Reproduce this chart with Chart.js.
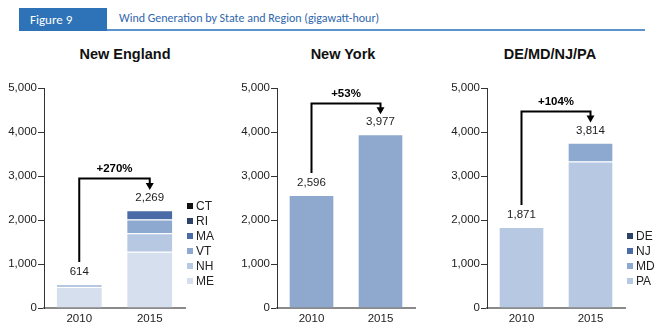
<!DOCTYPE html>
<html>
<head>
<meta charset="utf-8">
<script src="https://cdn.jsdelivr.net/npm/chart.js@4"></script>
<style>
  html, body { margin: 0; padding: 0; background: #fff; }
  body { width: 665px; height: 335px; position: relative; overflow: hidden; font-family: "Liberation Sans", Arial, sans-serif; }
  #figbox { position: absolute; left: 19px; top: 8px; width: 88px; height: 23px; background: #2e73b8; color: #fff;
            font-family: "Carlito", "Liberation Sans Narrow", "Open Sans", sans-serif; font-size: 13px; line-height: 23px; padding-left: 11px; box-sizing: border-box; }
  #figtitle { position: absolute; left: 119px; top: 8px; height: 21px; color: #2f67ad;
            font-family: "Carlito", "Liberation Sans Narrow", "Open Sans", sans-serif; font-size: 12px; line-height: 21px; }
  #figline { position: absolute; left: 107px; top: 29px; width: 538px; height: 2px; background: #5b93d1; }
  .ptitle { position: absolute; top: 46px; font-weight: bold; font-size: 14.5px; color: #111; text-align: center; width: 200px; }
  canvas { position: absolute; top: 0; }
</style>
</head>
<body>
<div id="figbox">Figure 9</div>
<div id="figtitle">Wind Generation by State and Region (gigawatt-hour)</div>
<div id="figline"></div>
<div class="ptitle" style="left:25px">New England</div>
<div class="ptitle" style="left:243px">New York</div>
<div class="ptitle" style="left:450px">DE/MD/NJ/PA</div>
<canvas id="c1" width="225" height="335" style="left:0px"></canvas>
<canvas id="c2" width="200" height="335" style="left:232px"></canvas>
<canvas id="c3" width="223" height="335" style="left:442px"></canvas>
<script>
// ---- data ----
const years = ["2010", "2015"];
const yTicks = [0, 1000, 2000, 3000, 4000, 5000];

// New England (stacked, bottom to top)
const neStates = ["ME", "NH", "VT", "MA", "RI", "CT"];
const neME = [475, 1280];
const neNH = [70, 420];
const neVT = [0, 310];
const neMA = [0, 210];
const neRI = [0, 5];
const neCT = [0, 2];
const neTotals = ["614", "2,269"];
const neChange = "+270%";
const neBracketLevel = 2950;

// New York
const nyValues = [2570, 3950];
const nyTotals = ["2,596", "3,977"];
const nyChange = "+53%";
const nyBracketLevel = 4650;

// DE/MD/NJ/PA (stacked, bottom to top)
const midStates = ["PA", "MD", "NJ", "DE"];
const midPA = [1840, 3330];
const midMD = [0, 425];
const midNJ = [0, 4];
const midDE = [0, 3];
const midTotals = ["1,871", "3,814"];
const midChange = "+104%";
const midBracketLevel = 4480;

// ---- styling ----
const neColors = ["#d5dfee", "#b7c8e2", "#8ea9d0", "#4a6ba5", "#2c4266", "#111111"];
const nyColor = "#8fa9ce";
const midColors = ["#b7c8e2", "#8ea9d0", "#4a6ba5", "#2c4266"];

Chart.defaults.font.family = '"Liberation Sans", Arial, sans-serif';
Chart.defaults.font.size = 11;
Chart.defaults.color = "#222";

const annotPlugin = {
  id: "annot",
  afterDatasetsDraw(chart, args, opts) {
    const ctx = chart.ctx;
    const xs = chart.scales.x, ys = chart.scales.y;
    const tops = [0, 1].map(i => {
      let s = 0;
      chart.data.datasets.forEach(d => { s += d.data[i]; });
      return ys.getPixelForValue(s);
    });
    const cx = [0, 1].map(i => xs.getPixelForValue(i));
    ctx.save();
    // value labels
    ctx.fillStyle = "#222";
    ctx.font = '11.5px "Liberation Sans", Arial, sans-serif';
    ctx.textAlign = "center";
    ctx.textBaseline = "middle";
    opts.totals.forEach((t, i) => ctx.fillText(t, cx[i], tops[i] - 12));
    // bracket
    const ly = Math.round(ys.getPixelForValue(opts.level)) + 0.5;
    const startY = tops[0] - 22;
    const tipY = tops[1] - 20;
    ctx.strokeStyle = "#000";
    ctx.lineWidth = 2;
    ctx.beginPath();
    ctx.moveTo(cx[0], startY);
    ctx.lineTo(cx[0], ly);
    ctx.lineTo(cx[1], ly);
    ctx.lineTo(cx[1], tipY - 6);
    ctx.stroke();
    ctx.fillStyle = "#000";
    ctx.beginPath();
    ctx.moveTo(cx[1] - 4, tipY - 7);
    ctx.lineTo(cx[1] + 4, tipY - 7);
    ctx.lineTo(cx[1], tipY);
    ctx.closePath();
    ctx.fill();
    // percent
    ctx.font = 'bold 11.5px "Liberation Sans", Arial, sans-serif';
    ctx.fillText(opts.change, (cx[0] + cx[1]) / 2, ly - 10);
    // legend
    if (opts.legend) {
      const ds = chart.data.datasets.slice().reverse();
      const n = ds.length;
      const lx = chart.chartArea.right + 2;
      ctx.font = '12px "Liberation Sans", Arial, sans-serif';
      ctx.textAlign = "left";
      ds.forEach((d, k) => {
        const y = opts.legendBottom - (n - 1 - k) * 15;
        ctx.fillStyle = d.backgroundColor;
        ctx.fillRect(lx, y - 3, 6, 6);
        ctx.fillStyle = "#222";
        ctx.fillText(d.label, lx + 9, y + 0.5);
      });
    }
    ctx.restore();
  }
};

function makePanel(id, datasets, totals, change, level, legend, padRight) {
  new Chart(document.getElementById(id), {
    type: "bar",
    data: { labels: years, datasets: datasets },
    options: {
      responsive: false,
      animation: false,
      devicePixelRatio: 1,
      layout: { padding: { top: 88, right: padRight, bottom: 0, left: 0 } },
      plugins: {
        legend: { display: false },
        tooltip: { enabled: false },
        annot: { totals: totals, change: change, level: level, legend: legend, legendBottom: 281 }
      },
      datasets: { bar: { barPercentage: 0.64, categoryPercentage: 1.0 } },
      scales: {
        x: {
          stacked: true,
          grid: { display: true, drawOnChartArea: false, drawTicks: false },
          border: { display: true, color: "#8a8a8a", width: 2 },
          ticks: { padding: 4, color: "#222", font: { size: 11.5 } },
          afterFit: s => { s.height = 27; }
        },
        y: {
          stacked: true,
          min: 0, max: 5000,
          afterBuildTicks: s => { s.ticks = yTicks.map(v => ({ value: v })); },
          grid: { display: true, drawOnChartArea: false, drawTicks: true, tickLength: 6, color: "#333" },
          border: { display: true, color: "#333", width: 1 },
          ticks: { padding: 1, color: "#222", font: { size: 11.5 }, callback: v => v.toLocaleString("en-US") },
          afterFit: s => { s.width = id === "c1" ? 44 : 45; }
        }
      }
    },
    plugins: [annotPlugin]
  });
}

function ds(label, data, color) {
  return { label: label, data: data, backgroundColor: color, borderColor: "#ffffff",
           borderWidth: { top: 1, left: 0, right: 0, bottom: 0 }, borderSkipped: false };
}

makePanel("c1", [
  ds(neStates[0], neME, neColors[0]),
  ds(neStates[1], neNH, neColors[1]),
  ds(neStates[2], neVT, neColors[2]),
  ds(neStates[3], neMA, neColors[3]),
  ds(neStates[4], neRI, neColors[4]),
  ds(neStates[5], neCT, neColors[5])
], neTotals, neChange, neBracketLevel, true, 40);

makePanel("c2", [
  ds("NY", nyValues, nyColor)
], nyTotals, nyChange, nyBracketLevel, false, 17);

makePanel("c3", [
  ds(midStates[0], midPA, midColors[0]),
  ds(midStates[1], midMD, midColors[1]),
  ds(midStates[2], midNJ, midColors[2]),
  ds(midStates[3], midDE, midColors[3])
], midTotals, midChange, midBracketLevel, true, 40);
</script>
</body>
</html>
